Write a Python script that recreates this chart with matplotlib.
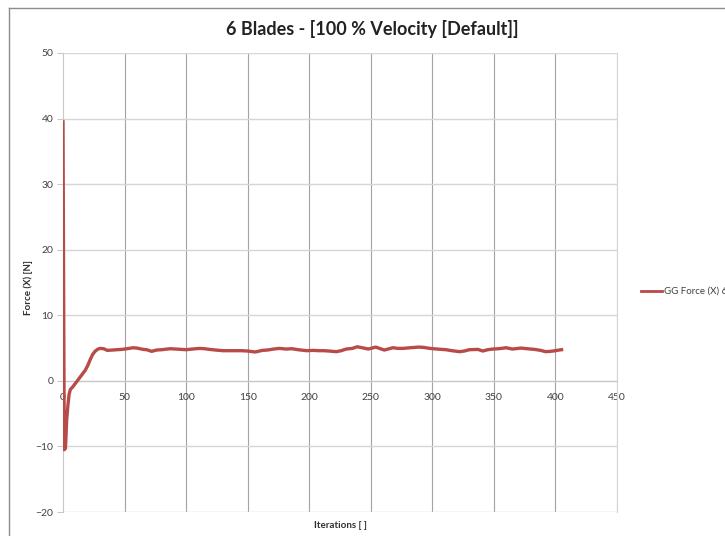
import matplotlib.pyplot as plt
from matplotlib.lines import Line2D

# iteration history of the x-force
iterations = [0, 1, 2, 3, 4, 5, 6, 8, 10, 12, 14, 16, 18, 20, 22, 24, 26, 28, 30,
              33, 36, 40, 44, 48, 52, 57, 60, 65, 68, 72, 76, 80, 87, 92, 96, 100,
              105, 111, 115, 119, 124, 130, 135, 140, 145, 150, 156, 162, 166, 171,
              176, 181, 186, 191, 198, 203, 208, 212, 216, 222, 226, 230, 235, 239,
              243, 248, 254, 261, 268, 272, 276, 282, 289, 293, 298, 304, 311, 316,
              322, 326, 330, 337, 341, 345, 349, 354, 360, 365, 372, 377, 383, 388,
              392, 396, 400, 403, 405]
force_x = [39.5, -10.5, -10.3, -5.9, -3.7, -2.0, -1.3, -0.9, -0.4, 0.1, 0.6, 1.1, 1.6,
           2.3, 3.2, 4.0, 4.5, 4.8, 4.95, 4.9, 4.65, 4.7, 4.75, 4.8, 4.9, 5.05, 5.0,
           4.8, 4.75, 4.5, 4.7, 4.75, 4.9, 4.85, 4.8, 4.75, 4.85, 4.95, 4.9, 4.8, 4.7,
           4.6, 4.6, 4.6, 4.6, 4.55, 4.4, 4.65, 4.7, 4.85, 4.95, 4.85, 4.9, 4.75, 4.6,
           4.65, 4.6, 4.6, 4.55, 4.45, 4.6, 4.85, 4.95, 5.2, 5.05, 4.85, 5.15, 4.7,
           5.05, 4.95, 4.95, 5.05, 5.15, 5.1, 4.95, 4.85, 4.75, 4.6, 4.45, 4.55, 4.75,
           4.8, 4.55, 4.75, 4.85, 4.9, 5.05, 4.85, 5.0, 4.9, 4.8, 4.65, 4.45, 4.5,
           4.6, 4.7, 4.75]

x_ticks = [0, 50, 100, 150, 200, 250, 300, 350, 400, 450]
y_ticks = [-20, -10, 0, 10, 20, 30, 40, 50]

plt.rcParams['font.family'] = ['Lato', 'DejaVu Sans']

fig = plt.figure(figsize=(7.25, 5.36), dpi=100)
ax = fig.add_axes([63 / 725, 1 - 512 / 536, 554 / 725, 459 / 536])

line_color = '#b84a47'
ax.plot(iterations, force_x, color=line_color, lw=2.4, solid_joinstyle='round',
        label='GG Force (X) 6 Blades', zorder=3)

ax.set_xlim(0, 450)
ax.set_ylim(-20, 50)
ax.set_xticks(x_ticks)
ax.set_yticks(y_ticks)

# gridlines: darker verticals, lighter horizontals
for x in x_ticks[1:]:
    ax.axvline(x, color='#a3a3a3', lw=0.8, zorder=1)
for y in y_ticks:
    ax.axhline(y, color='#d6d6d6', lw=1.0, zorder=1)

# x axis crosses at zero like a spreadsheet chart
ax.spines['bottom'].set_position(('data', 0))
ax.spines['bottom'].set_color('#c8c8c8')
ax.spines['left'].set_color('#c8c8c8')
ax.spines['top'].set_visible(False)
ax.spines['right'].set_color('#d6d6d6')

ax.tick_params(axis='y', length=4, color='#c8c8c8', labelsize=7.5,
               labelcolor='#404040', pad=3)
ax.tick_params(axis='x', length=0, labelsize=7.5, labelcolor='#404040', pad=9)

ax.set_ylabel('Force (X) [N]', fontsize=7, fontweight='bold', color='#303030')
ax.yaxis.set_label_coords(-0.054, 0.49)
ax.set_xlabel('Iterations [ ]', fontsize=7, fontweight='bold', color='#303030')
ax.xaxis.set_label_coords(0.5, -0.02)

fig.text(0.513, 1 - 29 / 536, '6 Blades - [100 % Velocity [Default]]', ha='center',
         va='center', fontsize=13, fontweight='bold', color='#222222')

# legend entry on the right, running off the edge
fig.add_artist(Line2D([641 / 725, 662 / 725], [1 - 291 / 536] * 2, color=line_color,
                      lw=2.0))
fig.text(664 / 725, 1 - 291 / 536, 'GG Force (X) 6 Blades', fontsize=7,
         color='#404040', va='center', ha='left')

# chart frame
fig.add_artist(Line2D([9 / 725, 1.0], [1 - 8 / 536] * 2, color='#8c8c8c', lw=1.0))
fig.add_artist(Line2D([9 / 725] * 2, [0.0, 1 - 8 / 536], color='#8c8c8c', lw=1.0))

fig.savefig('out.png', dpi=100)
